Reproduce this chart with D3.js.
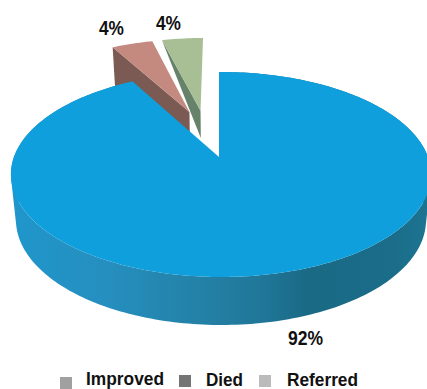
<!DOCTYPE html>
<html>
<head>
<meta charset="utf-8">
<script src="https://cdn.jsdelivr.net/npm/d3@7/dist/d3.min.js"></script>
<style>
html,body{margin:0;padding:0;background:#fff;overflow:hidden}
svg{display:block}
text{font-family:"Liberation Sans",Arial,sans-serif;font-weight:700;fill:#111}
</style>
</head>
<body>
<svg id="c" width="427" height="389"></svg>
<script>
const categories = ["Improved", "Died", "Referred"];
const values = [92, 4, 4];

const W = 427, H = 389;
const topFill = ["#0f9fdc", "#c48a80", "#a8bf96"];
const sideFill = ["url(#wall)", "#7a5a52", "#66826a"];
const legendFill = ["#a0a0a0", "#757575", "#bbbbbb"];
const legendBox = [[60,377],[179,375],[259,375]];
const legendText = [[86,385,78],[206,386,37],[287,386,71]];
const labelPos = [[288,345,35],[99,35,25],[156,30,25]];
const shift = [[0,0],[-0.155,0.49],[-0.097,0.505]];
const faceDepth = [0, 1, 0.62];

const perspY = 0.1707, perspX = -0.0095;
const topPlane = {cx:219, cy:157, rx:207, ry:99.5};
const botPlane = {cx:219, cy:202, rx:202, ry:102};
function project(p, plane){
  const d = 1 + perspY * p[1] + perspX * p[0];
  return [plane.cx + plane.rx * p[0] / d, plane.cy - plane.ry * p[1] / d];
}
const svg = d3.select("#c");
const defs = svg.append("defs");
const grad = defs.append("linearGradient").attr("id","wall")
  .attr("gradientUnits","userSpaceOnUse").attr("x1",0).attr("x2",W).attr("y1",0).attr("y2",0);
[[0,"#1f97cc"],[0.25,"#258fbf"],[0.45,"#2482a8"],[0.6,"#20789a"],[0.72,"#1a6a85"],[0.9,"#1a6c88"],[1,"#1c7490"]]
  .forEach(s => grad.append("stop").attr("offset",s[0]).attr("stop-color",s[1]));

const pie = d3.pie().sort(null).startAngle(0).endAngle(2*Math.PI).value(d=>d);
const arcs = pie(values);
const line = d3.line();

function model(a, i){ return [Math.sin(a)+shift[i][0], Math.cos(a)+shift[i][1]]; }
function rim(arc, i){
  const n = Math.max(8, Math.ceil((arc.endAngle-arc.startAngle)/0.02));
  const s = d3.scaleLinear().domain([0,n]).range([arc.startAngle,arc.endAngle]);
  return d3.range(n+1).map(k => model(s(k), i));
}
[2,1,0].forEach(i=>{
  const arc = arcs[i];
  const m = rim(arc,i);
  const top = m.map(p=>project(p,topPlane));
  const bot = m.map(p=>project(p,botPlane));
  if(i===0){
    const quads = d3.range(top.length-1).map(k=>{
      const q = [top[k],top[k+1],bot[k+1],bot[k]];
      return d3.polygonArea(q) < 0 ? q.reverse() : q;
    });
    svg.append("path").attr("d", quads.map(q=>line(q)+"Z").join(""))
      .attr("fill", sideFill[i]).attr("fill-rule","nonzero");
  } else {
    const apexTop = project(shift[i],topPlane);
    const apexBot = project(shift[i],botPlane);
    const t = faceDepth[i];
    const lerp = (a,b)=>[a[0]+(b[0]-a[0])*t, a[1]+(b[1]-a[1])*t];
    const rimBot = i===2 ? top[0] : bot[0];
    svg.append("path").attr("d", line([top[0],apexTop,lerp(apexTop,apexBot),rimBot])+"Z")
      .attr("fill", sideFill[i]);
  }
  svg.append("path")
    .attr("d", line(top.concat([project(shift[i],topPlane)]))+"Z")
    .attr("fill", topFill[i]);
});

svg.append("g").selectAll("text").data(values).join("text")
  .attr("x",(d,i)=>labelPos[i][0]).attr("y",(d,i)=>labelPos[i][1])
  .attr("textLength",(d,i)=>labelPos[i][2]).attr("lengthAdjust","spacingAndGlyphs")
  .attr("font-size",21).text(d=>d+"%");

const legend = svg.append("g").selectAll("g").data(categories).join("g");
legend.append("rect").attr("x",(d,i)=>legendBox[i][0]).attr("y",(d,i)=>legendBox[i][1])
  .attr("width",12).attr("height",12).attr("fill",(d,i)=>legendFill[i]);
legend.append("text").attr("x",(d,i)=>legendText[i][0]).attr("y",(d,i)=>legendText[i][1])
  .attr("textLength",(d,i)=>legendText[i][2]).attr("lengthAdjust","spacingAndGlyphs")
  .attr("font-size",19).text(d=>d);
</script>
</body>
</html>
